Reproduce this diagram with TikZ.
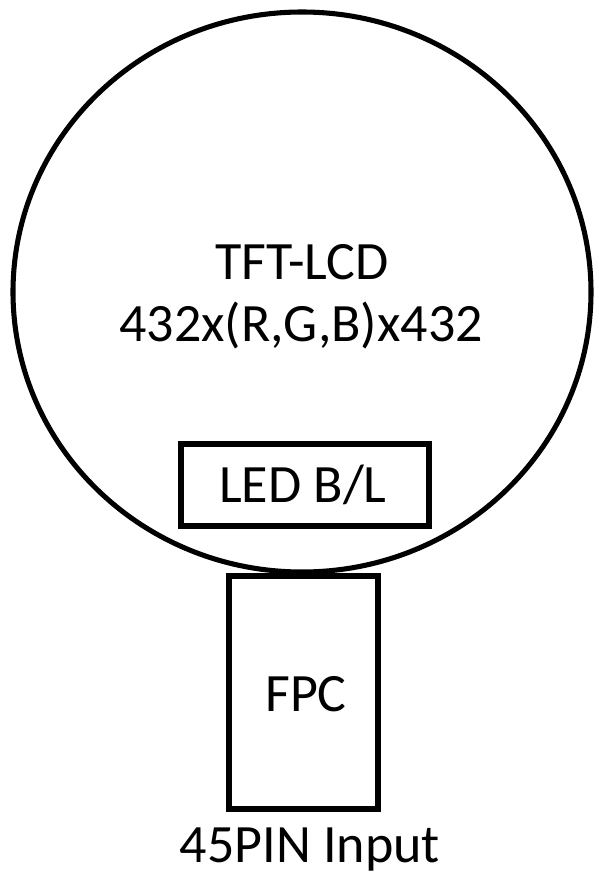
\documentclass[tikz,border=0pt]{standalone}
\usepackage{fontspec}
\setmainfont{Carlito}
\begin{document}
\begin{tikzpicture}[x=0.75pt,y=-0.75pt,
  lbl/.style={font=\fontsize{40.5}{46}\selectfont, text=black, inner sep=0pt},
  boxline/.style={draw=black, line width=4.5pt},
  circline/.style={draw=black, line width=3.8pt}]
\useasboundingbox (0,0) rectangle (595,878);
\draw[circline] (302,292) ellipse [x radius=289, y radius=280];
\coordinate (ledA) at (181,444);
\coordinate (ledB) at (429,526);
\draw[boxline] (ledA) rectangle (ledB);
\draw[boxline, fill=white] (229,576) rectangle (378,809);
\node[lbl] (tft) at (302,262) {TFT-LCD};
\node[lbl] (res) at (301,325) {432x(R,G,B)x432};
\node[lbl] (led) at (303,485) {LED B/L};
\node[lbl] (fpc) at (306,694) {FPC};
\node[lbl] (pin) at (310,850) {45PIN Input};
\end{tikzpicture}
\end{document}
